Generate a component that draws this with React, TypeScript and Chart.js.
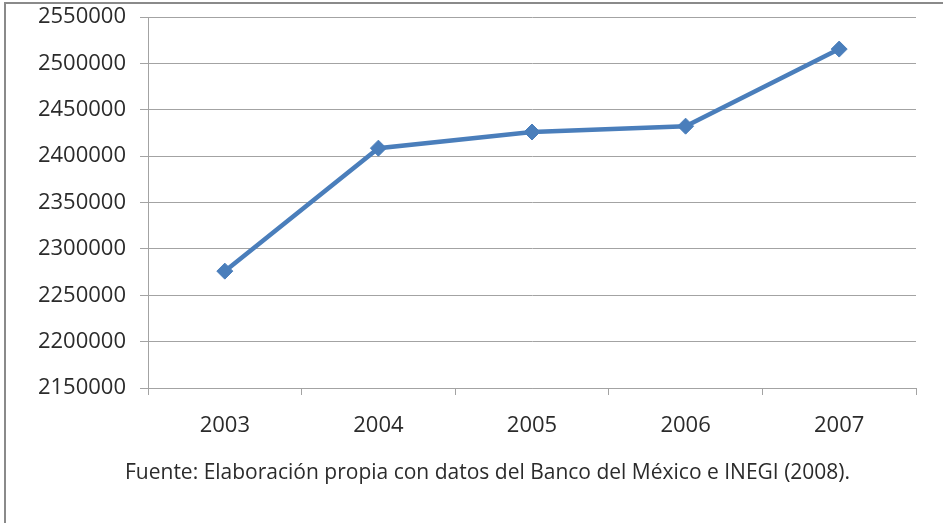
import React, { useEffect, useRef } from "react";
import { Chart, registerables } from "chart.js";

Chart.register(...registerables);

const years = ["2003", "2004", "2005", "2006", "2007"];
const values = [2276000, 2408600, 2426000, 2432300, 2515400];
const yMin = 2150000;
const yMax = 2550000;
const yStep = 50000;
const sourceNote =
  "Fuente: Elaboración propia con datos del Banco del México e INEGI (2008).";

const FONT = "'Open Sans', 'DejaVu Sans', sans-serif";
const TEXT = "#2b2b2b";
const GRID = "#a3a3a3";
const LINE = "#4a7ebb";

// Outer frame (left and top edges) plus the source note under the axis.
const framePlugin = {
  id: "frameAndNote",
  afterDraw(chart: Chart) {
    const ctx = chart.ctx;
    ctx.save();
    ctx.strokeStyle = "#8a8a8a";
    ctx.lineWidth = 2;
    ctx.beginPath();
    ctx.moveTo(5, chart.height);
    ctx.lineTo(5, 3);
    ctx.lineTo(chart.width, 3);
    ctx.stroke();

    ctx.fillStyle = TEXT;
    ctx.font = `21px ${FONT}`;
    ctx.textAlign = "left";
    ctx.textBaseline = "alphabetic";
    ctx.fillText(sourceNote, 125, 479);
    ctx.restore();
  },
};

export default function App() {
  const canvasRef = useRef<HTMLCanvasElement | null>(null);

  useEffect(() => {
    if (!canvasRef.current) return;
    const chart = new Chart(canvasRef.current, {
      type: "line",
      data: {
        labels: years,
        datasets: [
          {
            data: values,
            borderColor: LINE,
            backgroundColor: LINE,
            borderWidth: 4.5,
            tension: 0,
            pointStyle: "rectRot",
            pointRadius: 8,
            pointBorderWidth: 1,
            pointBackgroundColor: LINE,
            pointBorderColor: LINE,
          },
        ],
      },
      options: {
        animation: false,
        responsive: false,
        maintainAspectRatio: false,
        layout: { padding: { left: 0, top: 17, right: 27, bottom: 0 } },
        plugins: {
          legend: { display: false },
          tooltip: { enabled: false },
          title: { display: false },
        },
        scales: {
          x: {
            type: "category",
            offset: true,
            afterFit(scale: any) {
              scale.height = 135;
              scale.paddingLeft = 0;
              scale.paddingRight = 0;
            },
            grid: {
              offset: true,
              drawOnChartArea: false,
              drawTicks: true,
              tickLength: 7,
              color: GRID,
              lineWidth: 1,
            },
            border: { display: true, color: GRID, width: 1 },
            ticks: {
              color: TEXT,
              font: { family: FONT, size: 22 },
              padding: 18,
              maxRotation: 0,
            },
          },
          y: {
            min: yMin,
            max: yMax,
            afterFit(scale: any) {
              scale.width = 148;
              scale.paddingTop = 0;
              scale.paddingBottom = 0;
            },
            grid: {
              drawOnChartArea: true,
              drawTicks: true,
              tickLength: 8,
              color: GRID,
              lineWidth: 1,
            },
            border: { display: true, color: GRID, width: 1 },
            ticks: {
              stepSize: yStep,
              color: TEXT,
              font: { family: FONT, size: 22 },
              padding: 14,
              callback: (v: any) => String(v),
            },
          },
        },
      },
      plugins: [framePlugin],
    });
    return () => chart.destroy();
  }, []);

  return (
    <div
      style={{
        position: "fixed",
        left: 0,
        top: 0,
        width: 943,
        height: 523,
        background: "#ffffff",
      }}
    >
      <canvas ref={canvasRef} width={943} height={523} />
    </div>
  );
}
